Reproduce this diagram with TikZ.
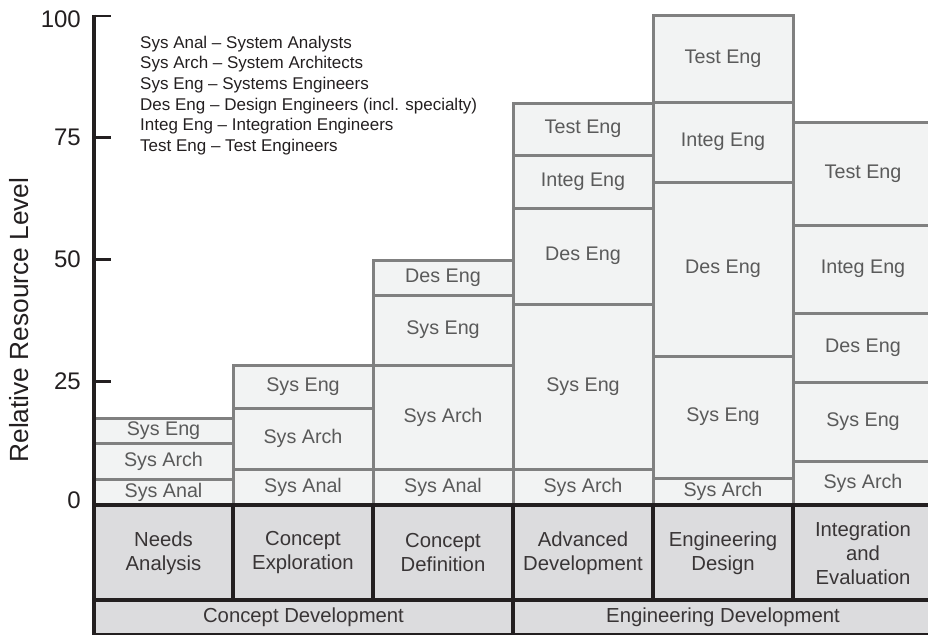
\documentclass[tikz,border=0pt]{standalone}
\usepackage{fontspec}
\setmainfont{Liberation Sans}
\definecolor{cellfill}{HTML}{F2F3F3}
\definecolor{cellline}{HTML}{808080}
\definecolor{celltxt}{HTML}{5A5A5A}
\definecolor{phasefill}{HTML}{DCDCDE}
\definecolor{ink}{HTML}{231F20}
\newcommand\cellbox[6]{%
  \draw[cellrect] (#2,#4) rectangle (#3,#5);
  \node[celltext] (#1) at ({(#2+#3)/2},{(#4+#5)/2}) {#6};}
\begin{document}
\begin{tikzpicture}[x=1pt,y=-1pt,
  cellrect/.style={fill=cellfill, draw=cellline, line width=3pt},
  celltext/.style={text=celltxt, font=\fontsize{19.7}{21}\selectfont, inner sep=0pt},
  phasetext/.style={text=ink!90, font=\fontsize{20.3}{24}\selectfont, align=center, inner sep=0pt},
  blackline/.style={draw=ink, line width=3.5pt},
  ticklabel/.style={text=ink, font=\fontsize{24}{24}\selectfont, anchor=east, inner sep=0pt},
  legendtext/.style={text=ink, font=\fontsize{17}{20.7}\selectfont, align=left, anchor=north west, inner sep=0pt}]
\useasboundingbox (0,0) rectangle (928,635);
% column 1
\cellbox{c1c}{94}{233}{418}{443}{Sys Eng}
\cellbox{c1b}{94}{233}{443}{479}{Sys Arch}
\cellbox{c1a}{94}{233}{479}{505}{Sys Anal}
% column 2
\cellbox{c2c}{233}{373}{365}{408}{Sys Eng}
\cellbox{c2b}{233}{373}{408}{469}{Sys Arch}
\cellbox{c2a}{233}{373}{469}{505}{Sys Anal}
% column 3
\cellbox{c3d}{373}{513}{260}{295}{Des Eng}
\cellbox{c3c}{373}{513}{295}{365}{Sys Eng}
\cellbox{c3b}{373}{513}{365}{469}{Sys Arch}
\cellbox{c3a}{373}{513}{469}{505}{Sys Anal}
% column 4
\cellbox{c4e}{513}{653}{103}{155}{Test Eng}
\cellbox{c4d}{513}{653}{155}{208}{Integ Eng}
\cellbox{c4c}{513}{653}{208}{304}{Des Eng}
\cellbox{c4b}{513}{653}{304}{469}{Sys Eng}
\cellbox{c4a}{513}{653}{469}{505}{Sys Arch}
% column 5
\cellbox{c5e}{653}{793}{15}{102}{Test Eng}
\cellbox{c5d}{653}{793}{102}{182}{Integ Eng}
\cellbox{c5c}{653}{793}{182}{356}{Des Eng}
\cellbox{c5b}{653}{793}{356}{478}{Sys Eng}
\cellbox{c5a}{653}{793}{478}{505}{Sys Arch}
% column 6
\cellbox{c6e}{793}{933}{122}{225}{Test Eng}
\cellbox{c6d}{793}{933}{225}{313}{Integ Eng}
\cellbox{c6c}{793}{933}{313}{382}{Des Eng}
\cellbox{c6b}{793}{933}{382}{461}{Sys Eng}
\cellbox{c6a}{793}{933}{461}{505}{Sys Arch}
% phase rows
\fill[phasefill] (94,505) rectangle (935,634);
\draw[blackline] (94,505) -- (935,505);
\draw[blackline] (94,600) -- (935,600);
\draw[ink, line width=2pt] (94,634) -- (935,634);
\foreach \xx in {233,373,513,653,793} \draw[blackline] (\xx,505) -- (\xx,600);
\draw[blackline] (513,600) -- (513,635);
\node[phasetext] (p1) at (163.5,553) {Needs\\Analysis};
\node[phasetext] (p2) at (303,553) {Concept\\Exploration};
\node[phasetext] (p3) at (443,553) {Concept\\Definition};
\node[phasetext] (p4) at (583,553) {Advanced\\Development};
\node[phasetext] (p5) at (723,553) {Engineering\\Design};
\node[phasetext] (p6) at (863,553) {Integration\\and\\Evaluation};
\node[phasetext] (s1) at (303.5,617) {Concept Development};
\node[phasetext] (s2) at (723,617) {Engineering Development};
% axis
\draw[blackline] (94,14.5) -- (94,635);
\foreach \yy in {16,137.5,259.5,381.5} \draw[ink, line width=2.5pt] (94,\yy) -- (111,\yy);
\node[ticklabel] (t100) at (81,19) {100};
\node[ticklabel] (t75) at (81,137) {75};
\node[ticklabel] (t50) at (81,259) {50};
\node[ticklabel] (t25) at (81,381) {25};
\node[ticklabel] (t0) at (81,500) {0};
\node[text=ink, font=\fontsize{26.3}{26}\selectfont, rotate=90, inner sep=0pt] (ylab) at (19,320) {Relative Resource Level};
% legend
\node[legendtext] (legend) at (140,35.5) {Sys Anal -- System Analysts\\Sys Arch -- System Architects\\Sys Eng -- Systems Engineers\\Des Eng -- Design Engineers (incl. specialty)\\Integ Eng -- Integration Engineers\\Test Eng -- Test Engineers};
\end{tikzpicture}
\end{document}
